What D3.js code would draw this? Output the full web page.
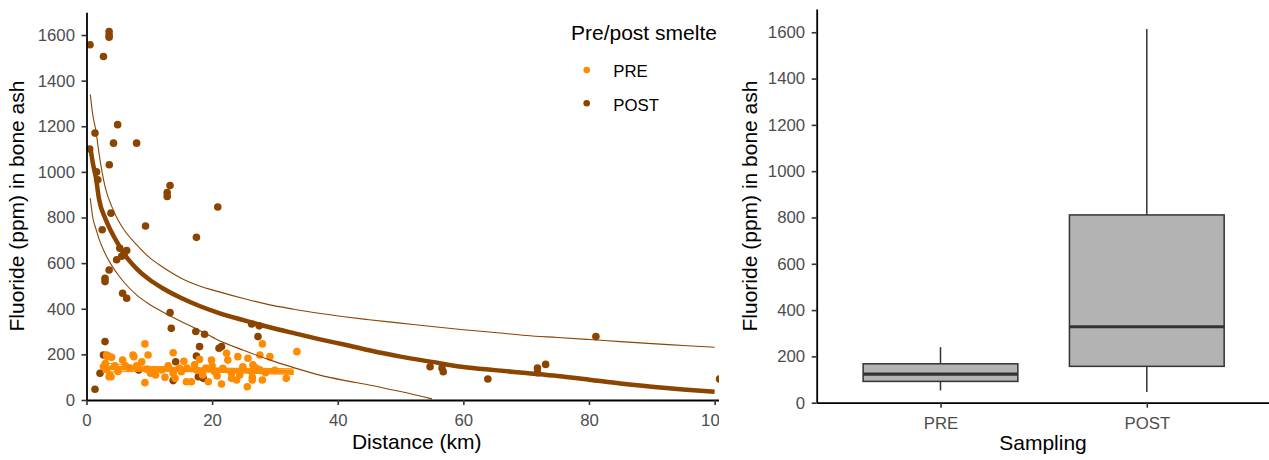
<!DOCTYPE html>
<html>
<head>
<meta charset="utf-8">
<script src="https://cdn.jsdelivr.net/npm/d3@7"></script>
<style>
  body { margin: 0; background: #fff; }
  svg { font-family: "Liberation Sans", Arial, sans-serif; }
</style>
</head>
<body>
<div id="chart"></div>
<script>
// groups and their colours
var groups = ["PRE", "POST"];
var groupColors = ["#FF8C00", "#8B4500"];

// scatter points, distance (km) and fluoride (ppm)
var preDist = [2.7, 3.0, 3.3, 3.5, 4.0, 3.7, 3.6, 3.2, 4.5, 5.0, 5.75, 6.2, 6.8, 7.4, 7.55, 8.0, 8.8, 9.3, 9.8, 9.3,
  9.6, 10.2, 10.4, 11.0, 12.0, 13.0, 13.8, 13.8, 14.1, 14.8, 15.1, 15.9, 16.7, 17.2, 17.6, 18.0, 18.5, 19.0, 19.4, 19.9,
  20.0, 20.4, 20.8, 21.5, 21.7, 22.3, 22.5, 23.1, 23.1, 23.9, 24.1, 24.4, 24.9, 24.9, 25.6, 25.7, 26.3, 26.4, 26.4, 26.5,
  27.0, 27.6, 27.6, 28.0, 28.0, 28.5, 29.2, 30.0, 31.8, 33.5, 16.0, 12.5, 15.5, 3.2, 3.9];
var preFluoride = [146, 160, 190, 193, 187, 110, 102, 135, 150, 125, 175, 150, 140, 197, 190, 150, 168, 246, 197, 76,
  135, 117, 124, 110, 132, 150, 207, 117, 95, 140, 124, 80, 80, 154, 130, 178, 110, 140, 80, 175,
  150, 124, 105, 70, 139, 205, 175, 117, 95, 88, 190, 110, 146, 139, 58, 183, 124, 100, 88, 154,
  140, 197, 132, 246, 88, 120, 190, 130, 95, 212, 140, 100, 170, 197, 102];

var postDist = [0.5, 0.56, 1.35, 1.6, 1.8, 2.7, 3.6, 3.6, 3.6, 4.96, 4.3, 7.98, 3.63, 13.3, 12.85, 12.85, 20.9, 3.9,
  9.4, 17.5, 2.5, 4.8, 5.3, 5.6, 6.0, 6.4, 3.6, 2.95, 2.95, 5.75, 6.4, 13.3, 13.5, 17.4, 18.8, 18.0, 17.5, 21.1, 21.5,
  26.3, 27.5, 27.3, 2.95, 2.7, 2.15, 1.35, 14.2, 13.8, 17.8, 18.6, 8.3, 54.7, 56.6, 56.8, 63.9, 71.8, 71.8, 73.1, 81.1, 100.8];
var postFluoride = [1100, 1557, 1170, 1000, 965, 1506, 1615, 1600, 1590, 1207, 1126, 1126, 1031, 940, 909, 892, 846, 819,
  763, 713, 746, 615, 665, 630, 645, 655, 570, 534, 519, 468, 446, 383, 314, 300, 288, 234, 193, 227, 234,
  333, 325, 278, 256, 197, 117, 47, 168, 85, 102, 95, 132, 146, 140, 124, 92, 140, 120, 156, 278, 92];

// fitted curve and confidence band for POST
var postFitDist = [0.6, 1, 1.5, 2, 3, 4, 5, 6, 8, 10, 12, 15, 18, 21, 25, 29, 33, 37, 41, 45, 50, 55, 60, 65, 70, 75, 80, 85, 90, 95, 100];
var postFit = [1110, 1040, 975, 880, 795, 735, 685, 640, 575, 528, 492, 448, 412, 382, 350, 320, 293, 267, 243, 218, 190, 167, 145, 131, 118, 105, 89, 72, 58, 46, 36];
var postUpper = [1340, 1250, 1180, 1080, 930, 850, 790, 745, 680, 625, 585, 535, 500, 475, 445, 418, 398, 380, 365, 352, 337, 322, 308, 296, 283, 274, 265, 256, 247, 239, 231];
var postLower = [885, 800, 750, 705, 640, 590, 550, 515, 460, 420, 388, 345, 305, 262, 218, 177, 142, 110, 86, 66, 37, 5];

// fitted line and band for PRE
var preFitDist = [2.5, 10, 20, 33];
var preFit = [142, 137, 131, 124];
var preUpper = [162, 148, 140, 137];
var preLower = [122, 126, 122, 112];

// box plot summaries (PRE, POST)
var boxLow = [53, 46];
var boxQ1 = [92, 157];
var boxMedian = [123, 328];
var boxQ3 = [168, 811];
var boxHigh = [240, 1614];

var yTicks = [0, 200, 400, 600, 800, 1000, 1200, 1400, 1600];
var xTicks = [0, 20, 40, 60, 80, 100];

var titleSize = 21, textSize = 16.8;

var svg = d3.select('#chart').append('svg')
  .attr('width', 1269)
  .attr('height', 460);

function styleAxis(g) {
  g.selectAll('.domain').attr('stroke', '#000').attr('stroke-width', 1.8);
  g.selectAll('.tick line').attr('stroke', '#333').attr('stroke-width', 1.6);
  g.selectAll('.tick text').attr('fill', '#4d4d4d').style('font-size', textSize + 'px')
    .style('font-family', '"Liberation Sans", Arial, sans-serif');
}

// ---------- left: scatter with fits ----------
svg.append('clipPath').attr('id', 'leftClip')
  .append('rect').attr('x', 0).attr('y', 0).attr('width', 719).attr('height', 460);
svg.append('clipPath').attr('id', 'panelClip')
  .append('rect').attr('x', 86.5).attr('y', 0).attr('width', 632.5).attr('height', 400);

var left = svg.append('g').attr('clip-path', 'url(#leftClip)');

var xScale = d3.scaleLinear().domain([0, 105]).range([86.5, 746]);
var yScale = d3.scaleLinear().domain([0, 1700]).range([400, 12.2]);

var panel = left.append('g').attr('clip-path', 'url(#panelClip)');

var postPts = postDist.map(function(d, i) { return {x: d, y: postFluoride[i]}; });
var prePts = preDist.map(function(d, i) { return {x: d, y: preFluoride[i]}; });

panel.selectAll('circle.post')
    .data(postPts)
  .enter().append('circle')
    .attr('cx', function(d) { return xScale(d.x); })
    .attr('cy', function(d) { return yScale(d.y); })
    .attr('r', 3.8)
    .attr('fill', groupColors[1]);

panel.selectAll('circle.pre')
    .data(prePts)
  .enter().append('circle')
    .attr('cx', function(d) { return xScale(d.x); })
    .attr('cy', function(d) { return yScale(d.y); })
    .attr('r', 3.8)
    .attr('fill', groupColors[0]);

function lineFor(xs, ys) {
  var pts = ys.map(function(v, i) { return [xs[i], v]; });
  return d3.line()
    .x(function(d) { return xScale(d[0]); })
    .y(function(d) { return yScale(d[1]); })
    .curve(d3.curveMonotoneX)(pts);
}

// thin band lines then the thick fits
[[postUpper, 1], [postLower, 1], [preUpper, 0], [preLower, 0]].forEach(function(b) {
  panel.append('path')
    .attr('d', lineFor(b[1] ? postFitDist : preFitDist, b[0]))
    .attr('fill', 'none')
    .attr('stroke', groupColors[b[1]])
    .attr('stroke-width', 1.1);
});
[[postFit, 1], [preFit, 0]].forEach(function(b) {
  panel.append('path')
    .attr('d', lineFor(b[1] ? postFitDist : preFitDist, b[0]))
    .attr('fill', 'none')
    .attr('stroke', groupColors[b[1]])
    .attr('stroke-width', 4.5);
});

var fmt = d3.format('d');

left.append('g')
  .attr('transform', 'translate(0,400)')
  .call(d3.axisBottom(xScale).tickValues(xTicks).tickFormat(fmt).tickSize(5).tickPadding(9).tickSizeOuter(0))
  .call(styleAxis);

left.append('g')
  .attr('transform', 'translate(86.5,0)')
  .call(d3.axisLeft(yScale).tickValues(yTicks).tickFormat(fmt).tickSize(5).tickPadding(6.5).tickSizeOuter(0))
  .call(styleAxis);

left.append('text')
  .attr('x', 416.7).attr('y', 449)
  .attr('text-anchor', 'middle')
  .style('font-size', titleSize + 'px')
  .text('Distance (km)');

left.append('text')
  .attr('transform', 'translate(24,206) rotate(-90)')
  .attr('text-anchor', 'middle')
  .style('font-size', titleSize + 'px')
  .text('Fluoride (ppm) in bone ash');

// legend
var legend = left.append('g');
legend.append('text')
  .attr('x', 571).attr('y', 40)
  .style('font-size', titleSize + 'px')
  .text('Pre/post smelte');
groups.forEach(function(g, i) {
  legend.append('circle')
    .attr('cx', 586.7).attr('cy', 70 + i * 33.3)
    .attr('r', 3.3)
    .attr('fill', groupColors[i]);
  legend.append('text')
    .attr('x', 613.3).attr('y', 77 + i * 33.5)
    .style('font-size', textSize + 'px')
    .text(g);
});

// ---------- right: box plot ----------
var xBox = d3.scalePoint().domain(groups).range([816.7, 1270.6]).padding(0.6);
var yBox = d3.scaleLinear().domain([0, 1700]).range([402.7, 9.1]);
var boxW = xBox.step() * 0.75;

var right = svg.append('g');

var boxes = groups.map(function(g, i) {
  return {g: g, lo: boxLow[i], q1: boxQ1[i], med: boxMedian[i], q3: boxQ3[i], hi: boxHigh[i]};
});

var bx = right.selectAll('g.box')
    .data(boxes)
  .enter().append('g');

bx.append('line')
  .attr('x1', function(d) { return xBox(d.g); })
  .attr('x2', function(d) { return xBox(d.g); })
  .attr('y1', function(d) { return yBox(d.hi); })
  .attr('y2', function(d) { return yBox(d.q3); })
  .attr('stroke', '#333').attr('stroke-width', 1.5);
bx.append('line')
  .attr('x1', function(d) { return xBox(d.g); })
  .attr('x2', function(d) { return xBox(d.g); })
  .attr('y1', function(d) { return yBox(d.q1); })
  .attr('y2', function(d) { return yBox(d.lo); })
  .attr('stroke', '#333').attr('stroke-width', 1.5);
bx.append('rect')
  .attr('x', function(d) { return xBox(d.g) - boxW / 2; })
  .attr('width', boxW)
  .attr('y', function(d) { return yBox(d.q3); })
  .attr('height', function(d) { return yBox(d.q1) - yBox(d.q3); })
  .attr('fill', '#b3b3b3')
  .attr('stroke', '#333').attr('stroke-width', 1.5);
bx.append('line')
  .attr('x1', function(d) { return xBox(d.g) - boxW / 2; })
  .attr('x2', function(d) { return xBox(d.g) + boxW / 2; })
  .attr('y1', function(d) { return yBox(d.med); })
  .attr('y2', function(d) { return yBox(d.med); })
  .attr('stroke', '#333').attr('stroke-width', 3.2);

right.append('g')
  .attr('transform', 'translate(0,402.7)')
  .call(d3.axisBottom(xBox).tickSize(5).tickPadding(9).tickSizeOuter(0))
  .call(styleAxis);

right.append('g')
  .attr('transform', 'translate(816.7,0)')
  .call(d3.axisLeft(yBox).tickValues(yTicks).tickFormat(fmt).tickSize(5).tickPadding(6.5).tickSizeOuter(0))
  .call(styleAxis);

right.append('text')
  .attr('x', 1043).attr('y', 450)
  .attr('text-anchor', 'middle')
  .style('font-size', titleSize + 'px')
  .text('Sampling');

right.append('text')
  .attr('transform', 'translate(757,206) rotate(-90)')
  .attr('text-anchor', 'middle')
  .style('font-size', titleSize + 'px')
  .text('Fluoride (ppm) in bone ash');
</script>
</body>
</html>
